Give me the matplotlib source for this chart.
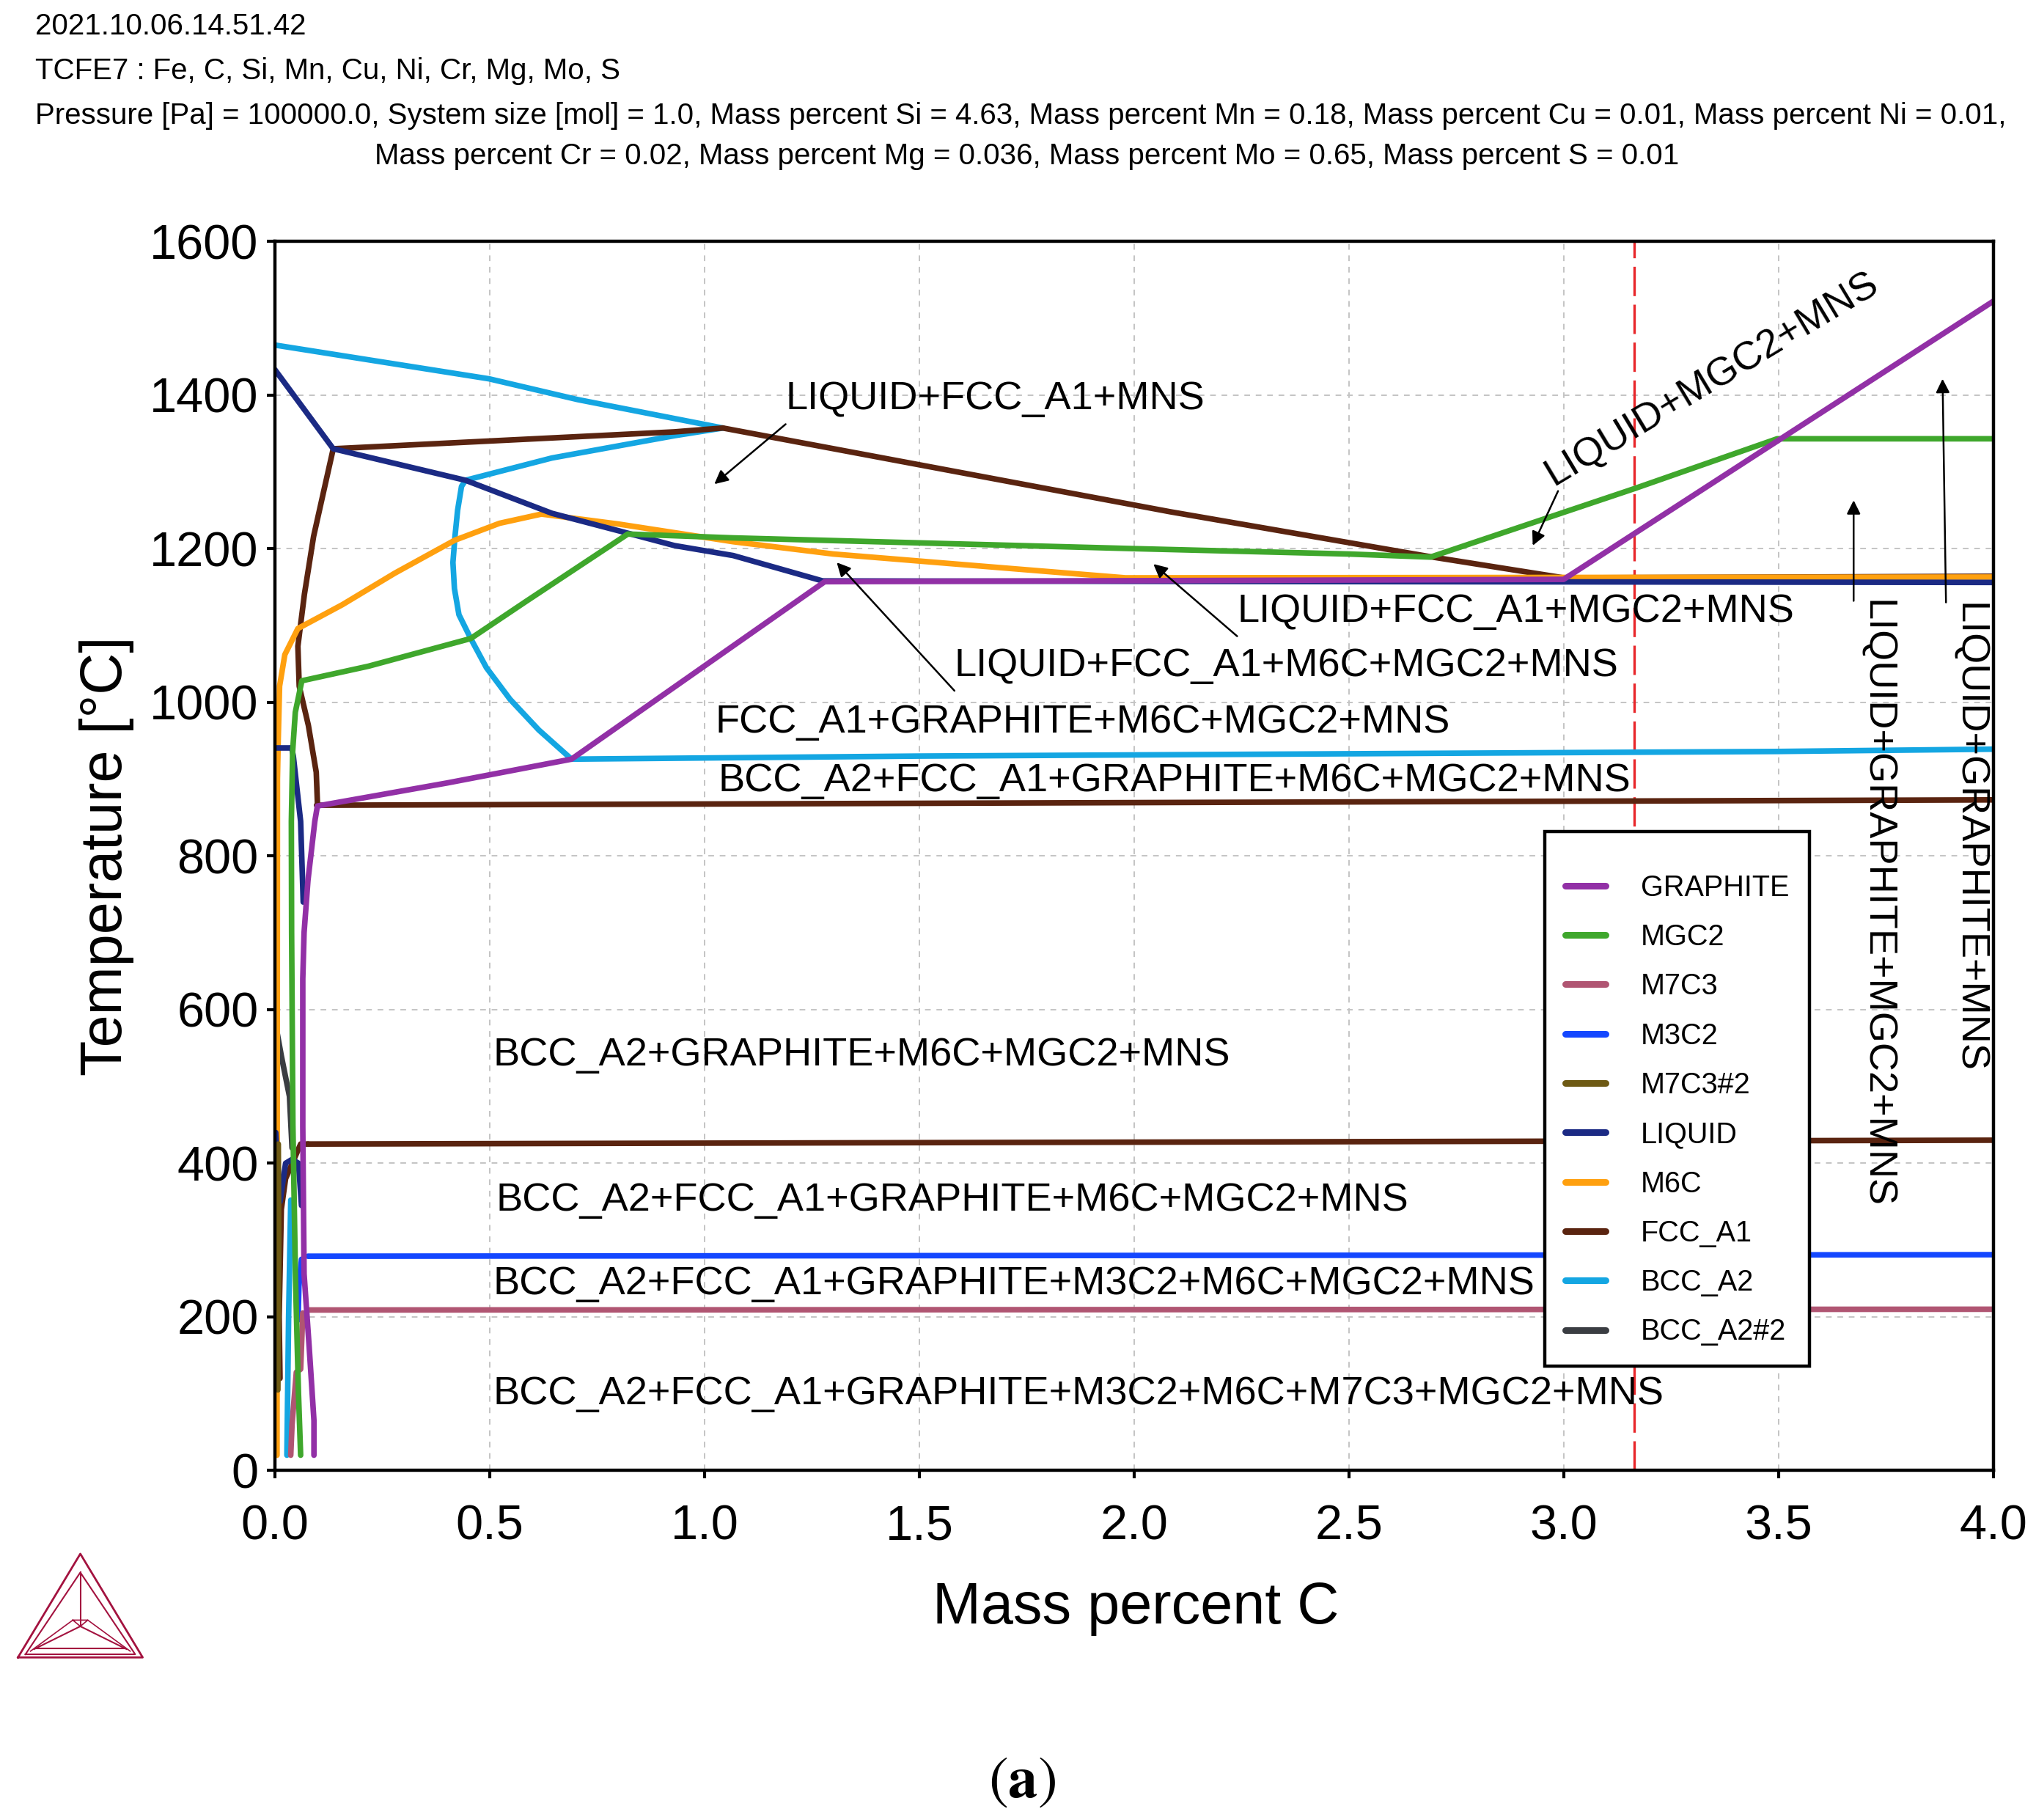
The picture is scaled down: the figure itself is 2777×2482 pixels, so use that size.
import numpy as np
import matplotlib.pyplot as plt

plt.rcParams['font.family'] = ['Liberation Sans', 'DejaVu Sans']

# phase boundaries: (mass percent C, temperature degC) per segment
graphite = [
    ([0.091, 0.091, 0.080, 0.068, 0.065, 0.065, 0.068, 0.077, 0.093, 0.099, 0.401, 0.6905, 1.28, 3.0, 4.0],
     [20, 65, 160, 256, 448, 640, 700, 768, 845, 865, 895, 926, 1157, 1160, 1522]),
]
mgc2 = [
    ([0.060, 0.055, 0.048, 0.042, 0.039, 0.0384, 0.0414, 0.0476, 0.0628, 0.218, 0.4559, 0.5838, 0.8215,
      1.067, 1.4, 2.0, 2.5, 2.69, 3.164, 3.497, 4.0],
     [20, 100, 250, 450, 700, 845, 936, 987, 1028, 1047, 1083, 1131, 1219,
      1214, 1209, 1200, 1193, 1189, 1278, 1343, 1343]),
]
m7c3 = [
    ([0.08, 4.0], [209, 210]),
    ([0.065, 0.060, 0.050, 0.040, 0.037], [205, 132, 128, 60, 20]),
]
m3c2 = [
    ([0.077, 4.0], [279, 281]),
    ([0.062, 0.056, 0.054], [275, 240, 196]),
]
m7c3_2 = [
    ([0.008, 0.009, 0.007], [425, 300, 105]),
]
liquid = [
    ([0.0, 0.1359, 0.4437, 0.6449, 0.8155, 0.930, 1.067, 1.275, 4.0],
     [1433, 1330, 1289, 1246, 1221, 1204, 1191, 1158, 1156]),
    ([0.0, 0.039], [941, 941]),
    ([0.039, 0.043, 0.060, 0.066], [941, 930, 845, 740]),
    ([0.002, 0.012, 0.025, 0.040, 0.055, 0.062], [440, 350, 400, 405, 400, 345]),
]
m6c = [
    ([0.005, 0.006, 0.0079, 0.011, 0.0232, 0.0536, 0.157, 0.279, 0.419, 0.523, 0.6205, 0.8, 1.067,
      1.3, 1.65, 1.98, 4.0],
     [20, 900, 953, 1021, 1062, 1096, 1127, 1168, 1211, 1233, 1245, 1232, 1209,
      1193, 1177, 1162, 1163]),
]
fcc_a1 = [
    ([0.0993, 0.0963, 0.078, 0.0567, 0.0536, 0.0689, 0.0902, 0.1146, 0.1359, 0.930, 1.043, 2.084, 2.684, 3.0, 4.0],
     [866, 909, 970, 1021, 1073, 1141, 1216, 1277, 1330, 1352, 1357, 1248, 1190, 1162, 1164]),
    ([0.097, 4.0], [866, 873]),
    ([0.077, 4.0], [425, 430]),
    ([0.012, 0.010, 0.015, 0.025, 0.060, 0.077], [120, 200, 340, 380, 425, 425]),
]
bcc_a2 = [
    ([0.0, 0.499, 0.705, 1.043], [1465, 1421, 1394, 1357]),
    ([1.043, 0.930, 0.6449, 0.4437, 0.4345, 0.4254, 0.4193, 0.4145, 0.418, 0.4285, 0.4559, 0.4925,
      0.5473, 0.6143, 0.6905, 1.5, 2.5, 3.5, 4.0],
     [1357, 1347, 1318, 1289, 1281, 1250, 1216, 1182, 1148, 1114, 1083, 1045,
      1004, 964, 926, 930, 933, 936, 939]),
    ([0.037, 0.032, 0.028], [352, 200, 20]),
]
bcc_a2_2 = [
    ([0.002, 0.015, 0.034, 0.040], [580, 540, 487, 420]),
]

phase_names = ['GRAPHITE', 'MGC2', 'M7C3', 'M3C2', 'M7C3#2', 'LIQUID', 'M6C', 'FCC_A1', 'BCC_A2', 'BCC_A2#2']
phase_lines = [graphite, mgc2, m7c3, m3c2, m7c3_2, liquid, m6c, fcc_a1, bcc_a2, bcc_a2_2]
phase_colors = ['#9230A6', '#3FA72C', '#B05572', '#1447FF', '#6E5A14',
                '#1B2A84', '#FFA00F', '#5A2410', '#14A6E2', '#3A3D42']

x_marker = 3.164  # red dashed composition line

# region labels: text, x, T
region_labels = [
    ('LIQUID+FCC_A1+MNS', 1.188, 1395),
    ('LIQUID+FCC_A1+MGC2+MNS', 2.24, 1118),
    ('LIQUID+FCC_A1+M6C+MGC2+MNS', 1.582, 1047),
    ('FCC_A1+GRAPHITE+M6C+MGC2+MNS', 1.025, 974),
    ('BCC_A2+FCC_A1+GRAPHITE+M6C+MGC2+MNS', 1.031, 898),
    ('BCC_A2+GRAPHITE+M6C+MGC2+MNS', 0.508, 541),
    ('BCC_A2+FCC_A1+GRAPHITE+M6C+MGC2+MNS', 0.514, 352),
    ('BCC_A2+FCC_A1+GRAPHITE+M3C2+M6C+MGC2+MNS', 0.508, 243),
    ('BCC_A2+FCC_A1+GRAPHITE+M3C2+M6C+M7C3+MGC2+MNS', 0.508, 100),
]
# arrows: tail (x, T) -> head (x, T)
arrows = [
    ((1.189, 1362), (1.023, 1284)),
    ((2.987, 1275), (2.928, 1204)),
    ((2.24, 1086), (2.045, 1180)),
    ((1.582, 1015), (1.308, 1182)),
    ((3.675, 1132), (3.675, 1263)),
    ((3.890, 1130), (3.882, 1421)),
]

fig = plt.figure(figsize=(27.77, 24.82), dpi=100)
ax = fig.add_axes([0.135, 0.192, 0.844, 0.6754])

ax.axvline(x_marker, color='#E8262A', lw=2.4, linestyle=(0, (12, 3.5)), zorder=3)

for name, segs, col in reversed(list(zip(phase_names, phase_lines, phase_colors))):
    for xs, ts in segs:
        ax.plot(xs, ts, color=col, lw=5.5, solid_joinstyle='round', solid_capstyle='round', zorder=4)

for txt, x, t in region_labels:
    ax.text(x, t, txt, fontsize=39, ha='left', va='center', zorder=6)

ax.text(3.345, 1421, 'LIQUID+MGC2+MNS', fontsize=39, rotation=31, rotation_mode='anchor',
        ha='center', va='center', zorder=6)
ax.text(3.727, 1133, 'LIQUID+GRAPHITE+MGC2+MNS', fontsize=39, rotation=-90, ha='center', va='top', zorder=6)
ax.text(3.942, 1130, 'LIQUID+GRAPHITE+MNS', fontsize=39, rotation=-90, ha='center', va='top', zorder=6)

for tail, head in arrows:
    ax.annotate('', xy=head, xytext=tail,
                arrowprops=dict(arrowstyle='-|>', color='black', lw=1.8, mutation_scale=28,
                                shrinkA=0, shrinkB=0), zorder=6)

ax.set_xlim(0, 4.0)
ax.set_ylim(0, 1600)
ax.set_xticks(np.arange(0, 4.01, 0.5))
ax.set_xticklabels([f'{v:.1f}' for v in np.arange(0, 4.01, 0.5)])
ax.set_yticks(np.arange(0, 1601, 200))
ax.tick_params(axis='both', which='major', labelsize=48, direction='out', length=8, width=3)
ax.tick_params(axis='x', pad=25)
ax.tick_params(axis='y', pad=8)
ax.grid(True, color='#c4c4c4', lw=1.4, linestyle=(0, (4, 4)))
for sp in ax.spines.values():
    sp.set_linewidth(3.2)
    sp.set_zorder(7)

ax.set_xlabel('Mass percent C', fontsize=57)
ax.set_ylabel('Temperature [°C]', fontsize=57)
ax.xaxis.set_label_coords(0.501, -0.090)
ax.yaxis.set_label_coords(-0.082, 0.5)

handles = [plt.Line2D([], [], color=c, lw=6.5, solid_capstyle='round') for c in phase_colors]
leg = ax.legend(handles, phase_names, loc='upper left', bbox_to_anchor=(0.739, 0.520),
                borderaxespad=0, fontsize=28.5, frameon=True, fancybox=False, framealpha=1,
                edgecolor='black', handlelength=1.4, handletextpad=1.2, labelspacing=0.74,
                borderpad=0.7, title=' ', title_fontsize=1)
leg.get_frame().set_linewidth(3.2)
leg.set_zorder(8)

# header text
fig.text(0.0173, 1 - 36 / 2482, '2021.10.06.14.51.42', fontsize=29, va='center', ha='left')
fig.text(0.0173, 1 - 97 / 2482, 'TCFE7 : Fe, C, Si, Mn, Cu, Ni, Cr, Mg, Mo, S', fontsize=29, va='center', ha='left')
fig.text(0.5015, 1 - 158 / 2482,
         'Pressure [Pa] = 100000.0, System size [mol] = 1.0, Mass percent Si = 4.63, Mass percent Mn = 0.18, '
         'Mass percent Cu = 0.01, Mass percent Ni = 0.01,', fontsize=29, va='center', ha='center')
fig.text(0.5045, 1 - 213 / 2482,
         'Mass percent Cr = 0.02, Mass percent Mg = 0.036, Mass percent Mo = 0.65, Mass percent S = 0.01',
         fontsize=29, va='center', ha='center')

# Thermo-Calc style logo
lax = fig.add_axes([0.0076, 0.0882, 0.0637, 0.0592])
lax.set_xlim(-0.02, 1.02)
lax.set_ylim(-0.02, 1.02)
lax.axis('off')
logo_col = '#A3123F'
lax.plot([0, 0.5, 1, 0], [0, 1, 0, 0], color=logo_col, lw=2)
lax.plot([0.06, 0.5, 0.94, 0.06], [0.03, 0.82, 0.03, 0.03], color=logo_col, lw=1.5)
lax.plot([0.15, 0.85], [0.09, 0.09], color=logo_col, lw=1.5)
lax.plot([0.5, 0.5], [0.82, 0.30], color=logo_col, lw=1.5)
lax.plot([0.13, 0.5, 0.87], [0.08, 0.30, 0.08], color=logo_col, lw=1.5)
lax.plot([0.44, 0.56, 0.5, 0.44], [0.36, 0.36, 0.30, 0.36], color=logo_col, lw=1.2)
lax.plot([0.10, 0.44], [0.06, 0.36], color=logo_col, lw=1.2)
lax.plot([0.90, 0.56], [0.06, 0.36], color=logo_col, lw=1.2)

fig.text(0.502, 1 - 2430 / 2482, r'$(\mathbf{a})$', fontsize=58, math_fontfamily='stix',
         ha='center', va='center')

fig.savefig('out.png', dpi=100)
